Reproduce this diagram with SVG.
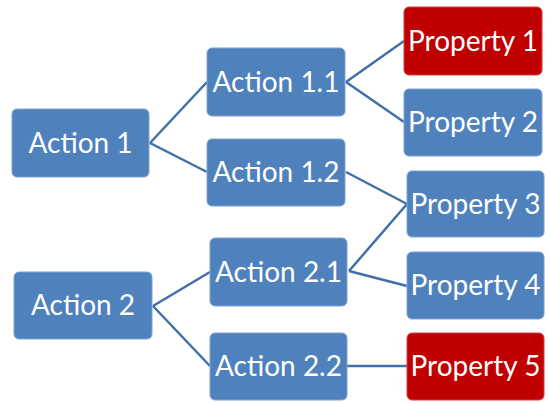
<svg xmlns="http://www.w3.org/2000/svg" width="548" height="403" viewBox="0 0 548 403">
<style>
.b{fill:#4F81BD;stroke:#7FA3D0;stroke-width:1}
.r{fill:#C00000;stroke:#D04040;stroke-width:1}
.t{font-family:Lato,"Open Sans",sans-serif;font-size:28px;fill:#FFFFFF;text-anchor:middle;dominant-baseline:central}
.c{stroke:#416FA8;stroke-width:2.5;fill:none}
</style>
<rect width="548" height="403" fill="#FFFFFF"/>
<g id="connectors">
<line class="c" x1="150" y1="143" x2="207" y2="82"/>
<line class="c" x1="150" y1="143" x2="207" y2="172"/>
<line class="c" x1="346" y1="82" x2="404" y2="41"/>
<line class="c" x1="346" y1="82" x2="404" y2="122"/>
<line class="c" x1="346" y1="172" x2="407" y2="204"/>
<line class="c" x1="349" y1="271" x2="407" y2="204"/>
<line class="c" x1="349" y1="271" x2="407" y2="286"/>
<line class="c" x1="153" y1="306" x2="210" y2="272"/>
<line class="c" x1="153" y1="306" x2="210" y2="366"/>
<line class="c" x1="347" y1="366" x2="407" y2="366"/>
</g>
<g id="action1"><rect class="b" x="12" y="109" width="137" height="68" rx="5"/><text class="t" x="80.5" y="142">Action 1</text></g>
<g id="action1_1"><rect class="b" x="207" y="48" width="138" height="68" rx="5"/><text class="t" x="276" y="81">Action 1.1</text></g>
<g id="action1_2"><rect class="b" x="207" y="139" width="138" height="67" rx="5"/><text class="t" x="276" y="171">Action 1.2</text></g>
<g id="action2"><rect class="b" x="14" y="272" width="138" height="67" rx="5"/><text class="t" x="83" y="304">Action 2</text></g>
<g id="action2_1"><rect class="b" x="210" y="238" width="137" height="68" rx="5"/><text class="t" x="278.5" y="271">Action 2.1</text></g>
<g id="action2_2"><rect class="b" x="210" y="333" width="137" height="67" rx="5"/><text class="t" x="278.5" y="365">Action 2.2</text></g>
<g id="property1"><rect class="r" x="404" y="7" width="138" height="68" rx="5"/><text class="t" x="473" y="40">Property 1</text></g>
<g id="property2"><rect class="b" x="404" y="89" width="138" height="67" rx="5"/><text class="t" x="473" y="121">Property 2</text></g>
<g id="property3"><rect class="b" x="407" y="171" width="137" height="66" rx="5"/><text class="t" x="475.5" y="203">Property 3</text></g>
<g id="property4"><rect class="b" x="407" y="252" width="137" height="67" rx="5"/><text class="t" x="475.5" y="284">Property 4</text></g>
<g id="property5"><rect class="r" x="407" y="333" width="137" height="67" rx="5"/><text class="t" x="475.5" y="365">Property 5</text></g>
</svg>
